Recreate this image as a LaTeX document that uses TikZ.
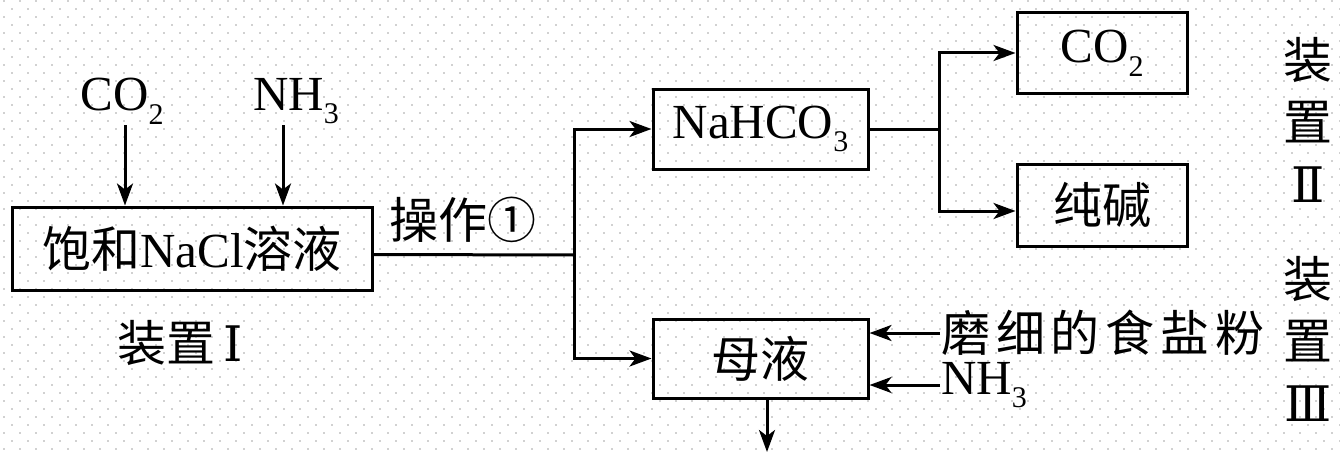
\documentclass[tikz,border=0pt]{standalone}
\usepackage{fontspec}
\setmainfont{Liberation Serif}
\newfontfamily\cjk{Noto Sans CJK SC}
\newfontfamily\cjkwide[LetterSpace=12]{Noto Sans CJK SC}
\newfontfamily\romf{DejaVu Serif}
\usetikzlibrary{arrows.meta}
\definecolor{dotc}{gray}{0.82}
\newcommand\chsub[1]{\raisebox{-0.28em}{\fontsize{30}{30}\selectfont #1}}
\tikzset{
  box/.style={draw, line width=3pt, inner sep=0pt, font=\fontsize{49}{54}\selectfont},
  lbl/.style={inner sep=1pt, font=\fontsize{49}{54}\selectfont},
  vlbl/.style={inner sep=0pt, align=center, font=\cjk\fontsize{49}{62}\selectfont},
  conn/.style={line width=3pt},
  arr/.style={conn, -{Stealth[length=22pt,width=16pt,inset=6pt]}}
}
\begin{document}
\begin{tikzpicture}[x=1pt,y=-1pt]
\useasboundingbox (0,0) rectangle (1340,452);
% background dot texture
\foreach \r in {0,...,56} {
  \pgfmathsetmacro\off{mod(\r,2)*8}
  \foreach \c in {0,...,83} {
    \fill[dotc] ({\c*16+3+\off},{\r*8}) rectangle ++(2,2);
  }
}
% boxes
\node[box, minimum width=360pt, minimum height=83pt] (sat) at (192,248.5) {{\cjk 饱和}NaCl{\cjk 溶液}};
\node[box, minimum width=215pt, minimum height=80pt] (nahco) at (760.5,129) {NaHCO\chsub{3}};
\node[box, minimum width=215pt, minimum height=79pt] (muye) at (760.5,358.5) {\cjk 母液};
\node[box, minimum width=170pt, minimum height=80pt] (co2box) at (1102,53) {CO\chsub{2}};
\node[box, minimum width=170pt, minimum height=82pt] (soda) at (1102,205) {\cjk 纯碱};
% labels
\node[lbl] (co2in) at (122,101) {CO\chsub{2}};
\node[lbl] (nh3in) at (296,101) {NH\chsub{3}};
\node[lbl] (op) at (463,220) {\cjk 操作①};
\node[lbl] (dev1) at (180,343) {\cjk 装置\,{\romf Ⅰ}};
\node[lbl, anchor=west] (salt) at (940,333) {\cjkwide 磨细的食盐粉};
\node[lbl, anchor=west] (nh3b) at (940,385) {NH\chsub{3}};
\node[vlbl] (dev2) at (1308,120) {装\\置\\{\romf Ⅱ}};
\node[vlbl] (dev3) at (1308,339) {装\\置\\{\romf Ⅲ}};
% coordinates
\coordinate (j1) at (574,255);
\coordinate (j2) at (939,129);
\coordinate (out) at (767,452);
% connectors
\draw[arr] ([xshift=3pt]co2in.south) -- ([xshift=3pt]co2in.south |- sat.north);
\draw[arr] ([xshift=-13pt]nh3in.south) -- ([xshift=-13pt]nh3in.south |- sat.north);
\draw[conn] ([yshift=-6pt]sat.east) -- (j1);
\draw[arr] (j1) |- (nahco.west);
\draw[arr] (j1) |- (muye.west);
\draw[conn] (nahco.east) -- (j2);
\draw[arr] (j2) |- (co2box.west);
\draw[arr] (j2) |- ([yshift=-6pt]soda.west);
\draw[arr] (salt.west) -- (salt.west -| muye.east);
\draw[arr] (nh3b.west) -- (nh3b.west -| muye.east);
\draw[arr] (muye.south -| out) -- (out);
\end{tikzpicture}
\end{document}
